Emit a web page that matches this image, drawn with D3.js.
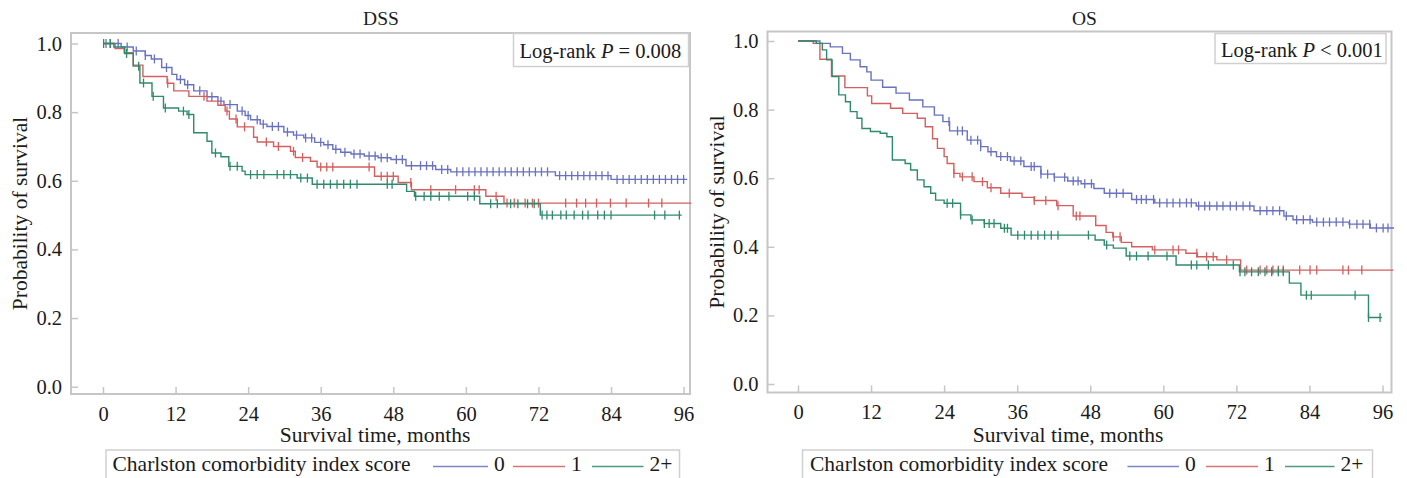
<!DOCTYPE html>
<html><head><meta charset="utf-8">
<script src="https://cdn.jsdelivr.net/npm/d3@7"></script>
<style>
body{margin:0;background:#fff}
svg{display:block}
text{font-family:"Liberation Serif","Times New Roman",serif;fill:#1b1b1b}
</style>
</head><body><svg id="chart" width="1407" height="478"></svg>
<script>
// ---------------- DATA ----------------
const xTicks = [0, 12, 24, 36, 48, 60, 72, 84, 96];
const yTicks = [0, 0.2, 0.4, 0.6, 0.8, 1.0];
const groupLabels = ["0", "1", "2+"];
const panelTitles = ["DSS", "OS"];
const pValues = ["= 0.008", "< 0.001"];
const xAxisTitle = "Survival time, months";
const yAxisTitle = "Probability of survival";
const legendTitle = "Charlston comorbidity index score";
const seriesColors = ["#6a72c0", "#d35f5e", "#2e8a6d"];

// DSS steps [month, survival]
const dss0 = [[0,1],[3,0.99],[5,0.978],[7,0.965],[8,0.955],[9.7,0.93],[11.4,0.91],[12.2,0.895],[13.5,0.88],[15,0.862],[17.2,0.845],[19,0.832],[20,0.822],[22.2,0.803],[23.5,0.79],[24.4,0.778],[26,0.765],[27.1,0.758],[29.9,0.742],[31.5,0.733],[33.2,0.725],[35,0.712],[36.5,0.705],[38,0.692],[39.3,0.683],[41,0.678],[43.2,0.672],[45.5,0.667],[47.6,0.662],[50.1,0.644],[55,0.633],[57.5,0.626],[74.8,0.615],[84,0.604]];
const dss0End = 96.6;
const dss1 = [[0,1],[2,0.985],[3.5,0.973],[5,0.937],[6.6,0.904],[10.6,0.884],[11.7,0.862],[14.2,0.846],[17.2,0.832],[19,0.82],[20.2,0.803],[20.9,0.78],[22.2,0.757],[24.9,0.727],[25.5,0.713],[28.2,0.70],[31,0.686],[31.8,0.668],[34.3,0.657],[35.4,0.64],[44.9,0.613],[48.8,0.595],[51,0.574],[63.3,0.555],[66.3,0.535]];
const dss1End = 97.3;
const dss2 = [[0,1],[1.8,0.99],[3.6,0.971],[5,0.934],[6.1,0.885],[8.1,0.846],[10,0.812],[12.5,0.803],[13.9,0.793],[15,0.74],[17.2,0.715],[18,0.681],[19.5,0.67],[20.8,0.642],[23,0.628],[23.5,0.618],[32.1,0.608],[34.6,0.59],[50.2,0.569],[51.5,0.555],[62.3,0.533],[72.3,0.50]];
const dss2End = 95.7;
const dss0Cens = [0.5,1.2,2.5,4,5.5,7,8.5,10.5,12.8,14,16,18,19.5,21,23,24,25.5,26.5,28,29,30.5,32,33.5,34.5,36,37.2,38.5,40,41.5,42.5,44,45,46,47,48.5,49.5,51,52.5,53.5,54.5,56,57,58.5,59.5,60.5,61.5,62.5,63.5,64.5,65.5,66.5,67.5,68.5,69.5,70.5,71.5,72.5,73.5,75.5,76.5,77.5,78.5,79.5,80.5,81.5,82.5,83.5,85,86,87,88,89,90,91,92,93,94,95,96];
const dss1Cens = [10.7,16.7,20.5,22,23.4,27,29,31.5,33,36,37,38,44,46,47,48,50.9,54.2,58.3,61.4,62.2,65,66.8,68,69.8,71,72,76.5,78.3,79.8,81.6,83.9,86.5,90.2,92.4];
const dss2Cens = [0.1,1.2,3.9,5.9,6.7,8.3,10.3,13.3,14.2,18.6,21,22.2,24.4,25.5,26.6,28.8,29.9,31,32.7,33.8,35.4,36.5,37.6,38.7,39.8,40.9,42,47,47.8,51.7,53.1,54.2,55.6,57.2,60.3,61.4,64.1,65.2,67.4,68.6,70.2,71.3,72.6,73.4,74.3,75.7,76.6,77.9,79.3,80.2,81.8,82.9,84,91.2,92.9,95.3];

// OS steps [month, survival]
const os0 = [[0,1],[3.6,0.993],[5.3,0.983],[7.3,0.964],[8.6,0.945],[10.2,0.925],[11.3,0.91],[12,0.886],[13.9,0.865],[16.1,0.848],[18.3,0.828],[20.5,0.808],[22.4,0.784],[23.8,0.765],[24.9,0.738],[27.8,0.711],[30,0.692],[31.2,0.677],[32.6,0.663],[34.9,0.65],[37.1,0.634],[39.9,0.612],[42.1,0.603],[44.3,0.592],[46.5,0.584],[48.6,0.57],[50.3,0.556],[54.8,0.538],[58.6,0.528],[65.4,0.519],[74.9,0.505],[79.8,0.49],[81.3,0.479],[84.5,0.472],[90.5,0.466],[94,0.455]];
const os0End = 97.9;
const os1 = [[0,1],[2.5,0.993],[3.6,0.947],[5.5,0.898],[7.7,0.864],[11.4,0.84],[12.1,0.818],[15.2,0.804],[17.2,0.789],[19.6,0.775],[20.9,0.75],[22.1,0.715],[22.9,0.687],[24,0.663],[24.5,0.643],[25.6,0.614],[26.6,0.604],[28.9,0.59],[31.1,0.572],[33.3,0.556],[36.8,0.544],[38.8,0.535],[42.5,0.52],[45.2,0.49],[48.9,0.462],[50.6,0.442],[51.7,0.429],[53.1,0.413],[54.8,0.400],[58.2,0.391],[63.7,0.381],[65.6,0.371],[68.8,0.362],[72.7,0.332]];
const os1End = 97.8;
const os2 = [[0,1],[3,0.993],[4,0.974],[4.7,0.945],[5.6,0.896],[6.7,0.843],[7.8,0.823],[8.6,0.794],[9.7,0.775],[10.5,0.745],[11.9,0.736],[13.5,0.731],[14.6,0.721],[15.5,0.653],[17.6,0.643],[18.5,0.624],[19.6,0.595],[20.7,0.575],[21.8,0.556],[22.6,0.536],[24,0.527],[26.7,0.493],[28.4,0.478],[30.6,0.468],[33.3,0.454],[35,0.434],[48.8,0.42],[50.3,0.405],[51.8,0.396],[53.9,0.373],[62.1,0.347],[72.5,0.327],[80.7,0.294],[82.6,0.259],[93.7,0.194]];
const os2End = 95.9;
const os0Cens = [24.8,26.2,27,28.4,29.5,30,31.7,33.3,34.4,35.5,36.6,38.3,38.8,39.9,41,42.1,43.8,45.2,46,47.1,48.2,51.2,52.3,53.4,55.6,56.4,57.2,58.4,59.4,60.6,61.6,62.7,63.8,64.6,65.8,66.8,67.6,68.8,69.8,71,72,73.1,74.2,75.9,77,78,79.1,80.2,81.9,83,84.1,85.2,86.3,87.3,88.4,89.5,90.6,91.8,92.8,93.9,95,96.1,96.9];
const os1Cens = [25.6,27,28.6,30.3,31.7,34.7,38.8,40.7,42.7,45.7,46.3,51.8,52.9,58.6,61.6,62.5,65.5,67.1,68.2,70.4,73.7,75.9,77,78,78.9,79.7,82.4,84.1,85.2,89.5,90.4,92.6];
const os2Cens = [24.5,25.4,26.7,28.6,30.6,31.4,32.2,33.9,34.4,36.1,37.2,38.3,39.4,40.5,41.6,42.7,47.7,50.7,54.5,55.6,57.5,60.6,64.6,65.5,67.4,71.5,72.6,73.4,74.5,75.6,76.7,77.8,78.9,79.7,83.5,84.3,91.5,93.7,95.6];

// ---------------- DRAW ----------------
const svg = d3.select("#chart");

const panels = [
  {title: panelTitles[0], p: pValues[0], series: [dss0, dss1, dss2], ends: [dss0End, dss1End, dss2End], cens: [dss0Cens, dss1Cens, dss2Cens],
   frame: {l: 71, t: 33, r: 690, b: 394}, xr: [103, 683.6], yr: [386.7, 43.5], titleX: 381, yTitleX: 19, xTitleX: 375,
   box: {l: 513.5, t: 33.5, r: 688.5, b: 66.5}, boxTextX: 519.5, boxTextY: 58,
   leg: {l: 106, r: 679.5, textX: 112.5, lines: [[433, 488], [513, 565], [592, 643.5]]}},
  {title: panelTitles[1], p: pValues[1], series: [os0, os1, os2], ends: [os0End, os1End, os2End], cens: [os0Cens, os1Cens, os2Cens],
   frame: {l: 767.5, t: 31.5, r: 1391.5, b: 392.5}, xr: [798, 1382.5], yr: [384, 41], titleX: 1084.5, yTitleX: 716, xTitleX: 1068,
   box: {l: 1215, t: 33.5, r: 1386, b: 63.5}, boxTextX: 1221, boxTextY: 56.5,
   leg: {l: 802.5, r: 1372.5, textX: 810, lines: [[1127.5, 1179], [1206, 1258], [1285, 1334.5]]}}
];

panels.forEach(pn => {
  const g = svg.append("g");
  const x = d3.scaleLinear().domain([0, 96]).range(pn.xr);
  const y = d3.scaleLinear().domain([0, 1]).range(pn.yr);
  const f = pn.frame;

  g.append("text").attr("x", pn.titleX).attr("y", 25).attr("text-anchor", "middle")
    .style("font-size", "19.5px").text(pn.title);

  g.append("rect").attr("x", f.l).attr("y", f.t).attr("width", f.r - f.l).attr("height", f.b - f.t)
    .attr("fill", "none").attr("stroke", "#c6c6c6").attr("stroke-width", 2);

  const xa = g.append("g").attr("transform", `translate(0,${f.b})`)
    .call(d3.axisBottom(x).tickValues(xTicks).tickSize(-7).tickPadding(12).tickFormat(d3.format("d")));
  xa.select(".domain").remove();
  xa.selectAll(".tick line").attr("stroke", "#c6c6c6").attr("stroke-width", 1.5);
  xa.selectAll(".tick text").style("font-size", "20.5px").style("font-family", '"Liberation Serif",serif').attr("fill", "#1b1b1b");

  const ya = g.append("g").attr("transform", `translate(${f.l},0)`)
    .call(d3.axisLeft(y).tickValues(yTicks).tickSize(-7).tickPadding(9).tickFormat(d3.format(".1f")));
  ya.select(".domain").remove();
  ya.selectAll(".tick line").attr("stroke", "#c6c6c6").attr("stroke-width", 1.5);
  ya.selectAll(".tick text").style("font-size", "20.5px").style("font-family", '"Liberation Serif",serif').attr("fill", "#1b1b1b");

  g.append("text").attr("x", pn.xTitleX).attr("y", 442).attr("text-anchor", "middle")
    .style("font-size", "21.5px").text(xAxisTitle);
  g.append("text").attr("transform", `translate(${pn.yTitleX},${(f.t + f.b) / 2}) rotate(-90)`)
    .attr("text-anchor", "middle").attr("dy", "0.35em").style("font-size", "21.5px").text(yAxisTitle);

  const line = d3.line().x(d => x(d[0])).y(d => y(d[1])).curve(d3.curveStepAfter);
  pn.series.forEach((s, i) => {
    const pts = s.concat([[pn.ends[i], s[s.length - 1][1]]]);
    g.append("path").attr("d", line(pts)).attr("fill", "none")
      .attr("stroke", seriesColors[i]).attr("stroke-width", 1.4);
    const surv = t => { let v = 1; for (const p of s) { if (p[0] <= t) v = p[1]; else break; } return v; };
    g.selectAll(null).data(pn.cens[i]).enter().append("line")
      .attr("x1", d => x(d)).attr("x2", d => x(d))
      .attr("y1", d => y(surv(d)) - 4.5).attr("y2", d => y(surv(d)) + 4.5)
      .attr("stroke", seriesColors[i]).attr("stroke-width", 1.3);
  });

  const b = pn.box;
  g.append("rect").attr("x", b.l).attr("y", b.t).attr("width", b.r - b.l).attr("height", b.b - b.t)
    .attr("fill", "#fff").attr("stroke", "#d0d0d0").attr("stroke-width", 1.5);
  const lt = g.append("text").attr("x", pn.boxTextX).attr("y", pn.boxTextY).style("font-size", "20.5px");
  lt.append("tspan").text("Log-rank ");
  lt.append("tspan").style("font-style", "italic").text("P");
  lt.append("tspan").text(" " + pn.p);

  const L = pn.leg;
  g.append("rect").attr("x", L.l).attr("y", 450).attr("width", L.r - L.l).attr("height", 40)
    .attr("fill", "#fff").attr("stroke", "#d0d0d0").attr("stroke-width", 1.5);
  g.append("text").attr("x", L.textX).attr("y", 471).style("font-size", "21.5px").text(legendTitle);
  L.lines.forEach((ln, i) => {
    g.append("line").attr("x1", ln[0]).attr("x2", ln[1]).attr("y1", 466.5).attr("y2", 466.5)
      .attr("stroke", seriesColors[i]).attr("stroke-width", 1.4).attr("opacity", 0.85);
    g.append("text").attr("x", ln[1] + 6).attr("y", 471).style("font-size", "21.5px").text(groupLabels[i]);
  });
});
</script>
</body></html>
